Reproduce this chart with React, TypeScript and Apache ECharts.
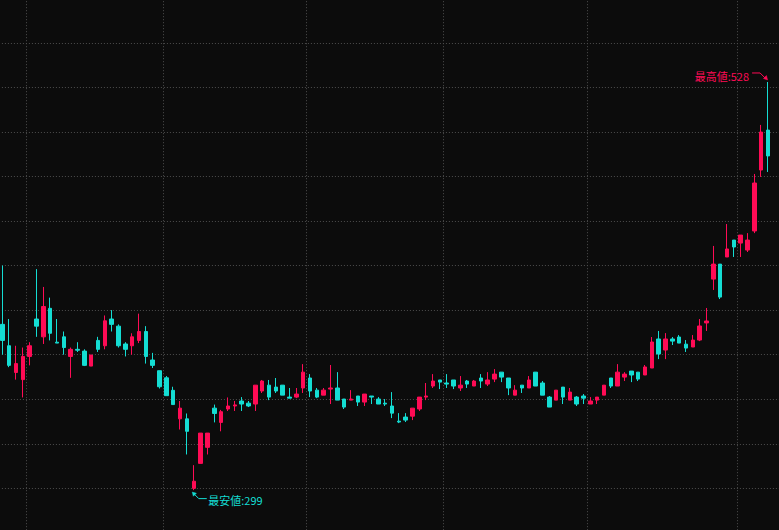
import React, { useEffect, useRef } from 'react';
import * as echarts from 'echarts';

const RED = '#ff0b55';
const CYAN = '#14ddd3';
const BG = '#0c0c0c';
const GRID = '#4e4e4e';

// trading days per month segment (first partial month, full months, current month)
const monthLengths = [4, 20, 21, 20, 21, 22, 5];
const emptySlots = 2;

const opens = [
  392, 380, 365, 361, 374, 395, 385, 401, 382, 385, 374, 378, 377, 368.6, 383, 380, 395, 391, 381, 380,
  383, 388, 372, 366, 362, 355, 339, 339, 300, 314, 323, 345, 337, 344.5, 346.2, 349, 347.8, 347.3, 354.6, 357.9,
  356.8, 357.9, 351.2, 351.2, 356.3, 361.9, 355.1, 352.3, 355.7, 356.3, 350.1, 349.5, 351.8, 348.4, 351.8, 350.1, 347.8, 346.2, 337.7, 340,
  340.5, 344.5, 351.2, 357.4, 360.8, 359.1, 360.8, 356.3, 360.2, 357.4, 361.9, 358.5, 361.3, 365.2, 361.9, 352.3, 357.9, 356.3, 365.2, 359.1,
  351.2, 349.5, 356.8, 349.5, 351.2, 351.8, 347.3, 349.5, 352.3, 361.9, 357.4, 362.4, 365.8, 365.2, 363.6, 367.5, 383.8, 377.6, 383.8, 384.9,
  380.9, 379.3, 383.2, 392.8, 417.4, 425.8, 429.8, 439.3, 437.6, 433.7, 444.4, 478.6, 501,
];
const closes = [
  383, 369, 370, 374, 380, 391, 402, 387, 381.5, 379, 378, 377.5, 369, 374.8, 378, 394, 392, 380, 378, 385,
  388, 374, 369, 357, 352, 347, 345, 332, 304, 331, 331, 342, 343, 346.2, 346.8, 347.3, 346.2, 357.9, 360.2, 351.2,
  354.6, 352.3, 350.6, 352.9, 365.2, 354.6, 351.2, 355.1, 356.3, 349.5, 345.6, 350.1, 348.4, 352.9, 351.2, 347.3, 347.3, 342.2, 337.2, 338.3,
  345, 351.2, 351.8, 360.2, 359.6, 358.5, 357.4, 357.9, 358.5, 360.2, 360.2, 360.8, 364.1, 362.4, 356.3, 355.1, 356.3, 360.8, 357.4, 352.3,
  345.6, 355.1, 351.2, 354, 347.3, 350.6, 349, 351.2, 357.9, 357.4, 365.2, 364.1, 363.6, 361.3, 368.1, 382.1, 375.4, 383.8, 382.6, 381.5,
  378.7, 383.2, 391.1, 393.9, 425.8, 407.3, 434.3, 435.4, 442.1, 439.3, 471.3, 499.9, 486.5,
];
const lows = [
  375, 368, 361, 351, 369, 385, 381, 383, 381.5, 375, 362, 376.5, 368.6, 368.6, 376.5, 378, 388, 379, 374, 375,
  381.5, 370, 367.5, 356, 352, 347, 333, 319, 299, 314, 319, 337, 332, 343.4, 343.4, 343.4, 345.6, 343.4, 353.5, 349.5,
  353.5, 352.3, 350.6, 350.6, 353.5, 351.2, 350.6, 352.3, 347.3, 349.5, 344.5, 349.5, 346.2, 346.2, 347.3, 347.3, 346.2, 339.4, 336.6, 337.2,
  338.3, 343.4, 349.5, 356.3, 355.7, 356.3, 355.7, 354.6, 356.3, 357.4, 356.3, 357.4, 359.6, 359.6, 352.3, 352.3, 353.5, 356.3, 357.4, 352.3,
  345.6, 349.5, 347.3, 349.5, 346.2, 347.3, 347.3, 347.3, 352.3, 356.3, 357.4, 360.2, 359.6, 360.2, 363.6, 367.5, 372.5, 372.5, 380.4, 381.5,
  376.5, 379.3, 382.6, 388.3, 411.3, 406.2, 429.8, 429.8, 429.8, 432.6, 443.2, 474.7, 477.5,
];
const highs = [
  425, 395, 380, 379, 382, 423, 413, 407, 395, 388, 379, 382, 378, 374.8, 385, 397, 400, 392, 382, 387,
  398, 391, 376, 366, 363, 357, 349, 342, 313, 331, 331, 347, 344, 351, 349, 351.2, 349, 357.9, 360.8, 360.8,
  361.9, 357.9, 356.3, 356.3, 369.7, 364.1, 356.3, 356.3, 369.2, 365.2, 350.1, 355.1, 351.8, 352.9, 351.8, 351.2, 350.1, 354, 342.2, 342.2,
  345, 351.2, 359.1, 364.1, 360.8, 364.1, 360.8, 363, 360.8, 360.8, 364.1, 365.2, 366.9, 365.2, 361.9, 357.9, 357.9, 363, 365.2, 360.2,
  351.8, 355.1, 356.8, 356.3, 351.8, 352.9, 351.2, 351.2, 357.9, 361.9, 369.7, 365.2, 365.8, 365.2, 369.2, 384.9, 388.3, 387.1, 384.9, 386,
  383.2, 386, 395, 401.2, 436, 425.8, 448.3, 439.3, 442.1, 443.2, 476.4, 503.9, 528,
];

const yMin = 275;
const yMax = 575;
const yInterval = 25;

// category labels: month/day-of-segment
const categories: string[] = [];
const monthStarts: number[] = [];
monthLengths.forEach((len, m) => {
  if (m > 0) monthStarts.push(categories.length);
  for (let d = 1; d <= len; d++) categories.push(`${m + 1}-${d}`);
});
for (let k = 0; k < emptySlots; k++) categories.push(`x${k}`);

// the chart canvas is larger than the visible window and offset by PAD
const PAD = 10;
const CW = 779 + 3 * PAD;
const CH = 530 + 2 * PAD;

export default function App() {
  const ref = useRef<HTMLDivElement>(null);
  useEffect(() => {
    if (!ref.current) return;
    document.body.style.margin = '0';
    document.body.style.background = BG;
    const chart = echarts.init(ref.current, undefined, { renderer: 'svg' });
    const data = opens.map((o, i) => [o, closes[i], lows[i], highs[i]]);
    const slots = categories.length;
    const band = 6.837;
    const gridLeft = PAD - 1.1;
    const gridWidth = slots * band;
    const gridTop = PAD - 1.8;
    const gridHeight = 534.7;
    const option: any = {
      animation: false,
      backgroundColor: BG,
      grid: {
        left: gridLeft,
        top: gridTop,
        width: gridWidth,
        height: gridHeight,
        containLabel: false,
        outerBoundsMode: 'none',
      },
      xAxis: {
        type: 'category',
        data: categories,
        boundaryGap: true,
        axisLine: { show: false },
        axisTick: { show: false },
        axisLabel: { show: false },
        splitLine: {
          show: true,
          interval: (idx: number) => monthStarts.includes(idx),
          lineStyle: { color: GRID, type: [1, 2], width: 1 },
        },
      },
      yAxis: {
        type: 'value',
        min: yMin,
        max: yMax,
        interval: yInterval,
        axisLine: { show: false },
        axisTick: { show: false },
        axisLabel: { show: false },
        splitLine: { show: true, lineStyle: { color: GRID, type: [1, 2], width: 1 } },
      },
      series: [
        {
          type: 'candlestick',
          data,
          barWidth: 4,
          itemStyle: {
            color: RED,
            color0: CYAN,
            borderColor: RED,
            borderColor0: CYAN,
            borderWidth: 1,
          },
        },
      ],
    };
    chart.setOption(option);

    let hiIdx = 0;
    let loIdx = 0;
    highs.forEach((h, i) => { if (h > highs[hiIdx]) hiIdx = i; });
    lows.forEach((l, i) => { if (l < lows[loIdx]) loIdx = i; });
    const maxHigh = highs[hiIdx];
    const minLow = lows[loIdx];
    const [hx, hy] = chart.convertToPixel({ gridIndex: 0 }, [hiIdx, maxHigh]) as number[];
    const [lx, ly] = chart.convertToPixel({ gridIndex: 0 }, [loIdx, minLow]) as number[];
    const font = '11px "Noto Sans CJK JP", "Noto Sans CJK SC", sans-serif';

    chart.setOption({
      graphic: [
        {
          type: 'text',
          x: hx - 19,
          y: hy - 6,
          style: {
            text: `最高値:${maxHigh}`,
            fill: RED,
            font,
            align: 'right',
            textAlign: 'right',
            verticalAlign: 'middle',
            textVerticalAlign: 'middle',
          },
        },
        {
          type: 'polyline',
          shape: { points: [[hx - 16, hy - 9], [hx - 8, hy - 9], [hx - 2.5, hy - 3.5]] },
          style: { stroke: RED, lineWidth: 1, fill: 'none' },
        },
        {
          type: 'polygon',
          shape: { points: [[hx - 0.5, hy - 2], [hx - 1.6, hy - 6.4], [hx - 4.6, hy - 3.4]] },
          style: { fill: RED, stroke: RED, lineWidth: 0.5 },
        },
        {
          type: 'polygon',
          shape: { points: [[lx - 1.5, ly + 2], [lx + 2.6, ly + 3.1], [lx - 0.4, ly + 6.1]] },
          style: { fill: CYAN, stroke: CYAN, lineWidth: 0.5 },
        },
        {
          type: 'polyline',
          shape: { points: [[lx + 0.5, ly + 4], [lx + 5, ly + 8.5], [lx + 13, ly + 8.5]] },
          style: { stroke: CYAN, lineWidth: 1, fill: 'none' },
        },
        {
          type: 'text',
          x: lx + 14.5,
          y: ly + 10,
          style: {
            text: `最安値:${minLow}`,
            fill: CYAN,
            font,
            align: 'left',
            textAlign: 'left',
            verticalAlign: 'middle',
            textVerticalAlign: 'middle',
          },
        },
      ],
    });

    return () => chart.dispose();
  }, []);

  return (
    <div
      style={{
        position: 'absolute',
        left: 0,
        top: 0,
        width: 779,
        height: 530,
        overflow: 'hidden',
        background: BG,
      }}
    >
      <div
        ref={ref}
        style={{ position: 'absolute', left: -PAD, top: -PAD, width: CW, height: CH }}
      />
    </div>
  );
}
